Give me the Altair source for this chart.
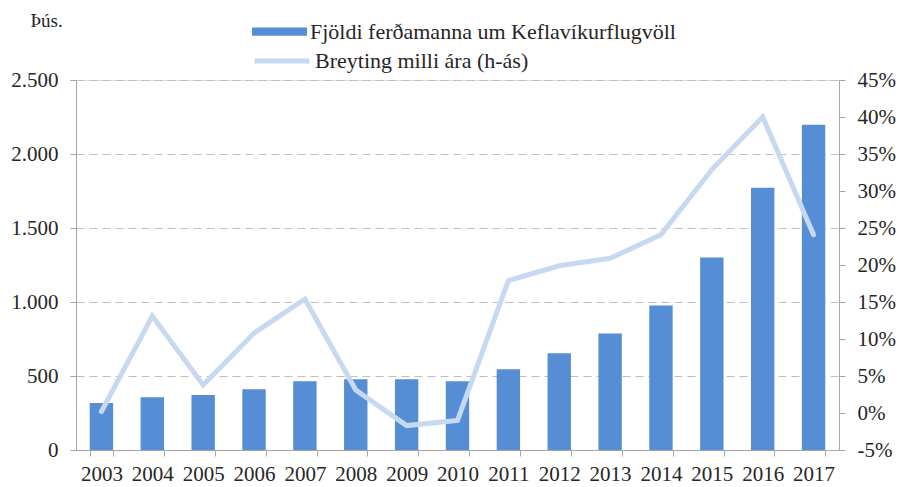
import altair as alt
import pandas as pd

years = ["2003", "2004", "2005", "2006", "2007", "2008", "2009", "2010",
         "2011", "2012", "2013", "2014", "2015", "2016", "2017"]
visitors = [317, 357, 371, 411, 465, 478, 478, 465, 546, 654, 788, 977, 1300, 1772, 2197]
change = [0.002, 0.131, 0.038, 0.108, 0.154, 0.031, -0.017, -0.010,
          0.179, 0.199, 0.209, 0.241, 0.329, 0.400, 0.241]

bar_name = "Fjöldi ferðamanna um Keflavíkurflugvöll"
line_name = "Breyting milli ára (h-ás)"

df = pd.DataFrame({"year": years, "visitors": visitors, "change": change,
                   "s1": bar_name, "s2": line_name})

FONT = "Liberation Serif"
TXT = "#262626"
AX = "#A6A6A6"

x = alt.X("year:O", title=None,
          scale=alt.Scale(paddingInner=0.54, paddingOuter=0.27),
          axis=alt.Axis(labelAngle=0, tickBand="extent", tickSize=6, labelPadding=7,
                        domainColor=AX, tickColor=AX, labelFont=FONT, labelFontSize=21,
                        labelColor=TXT, grid=False))

bars = alt.Chart(df).mark_bar(color="#558ED5").encode(
    x=x,
    y=alt.Y("visitors:Q", title="Þús.",
            scale=alt.Scale(domain=[0, 2500], nice=False),
            axis=alt.Axis(values=[0, 500, 1000, 1500, 2000, 2500],
                          labelExpr="replace(format(datum.value, ','), ',', '.')",
                          tickSize=6, labelPadding=12, domainColor=AX, tickColor=AX,
                          labelFont=FONT, labelFontSize=21, labelColor=TXT,
                          grid=True, gridColor="#BFBFBF", gridDash=[8, 5], gridWidth=1.2,
                          titleAngle=0, titleX=-46, titleY=-69, titleAlign="left",
                          titleBaseline="top",
                          titleFont=FONT, titleFontSize=19, titleFontWeight="normal",
                          titleColor=TXT)),
    fill=alt.Fill("s1:N", scale=alt.Scale(domain=[bar_name], range=["#558ED5"]),
                  legend=alt.Legend(title=None, orient="none", legendX=176, legendY=-76,
                                    symbolType="M-1,-0.15H1V0.15H-1Z", symbolSize=3025,
                                    symbolStrokeWidth=0, labelFont=FONT, labelFontSize=22,
                                    labelColor=TXT, labelOffset=3, padding=0, labelLimit=0)),
)

line = alt.Chart(df).mark_line(strokeWidth=5, strokeCap="round").encode(
    x=x,
    y=alt.Y("change:Q", title=None,
            scale=alt.Scale(domain=[-0.05, 0.45], nice=False),
            axis=alt.Axis(orient="right",
                          values=[-0.05, 0, 0.05, 0.1, 0.15, 0.2, 0.25, 0.3, 0.35, 0.4, 0.45],
                          labelExpr="replace(format(datum.value, '.0%'), '−', '-')",
                          tickSize=6, labelPadding=12, domainColor=AX, tickColor=AX,
                          labelFont=FONT, labelFontSize=21, labelColor=TXT, grid=False)),
    stroke=alt.Stroke("s2:N", scale=alt.Scale(domain=[line_name], range=["#C6D9F1"]),
                      legend=alt.Legend(title=None, orient="none", legendX=176, legendY=-49,
                                        symbolType="stroke", symbolSize=3025,
                                        symbolStrokeWidth=5, labelFont=FONT, labelFontSize=22,
                                        labelColor=TXT, labelOffset=3, padding=0, labelLimit=0)),
)

chart = alt.layer(bars, line).resolve_scale(y="independent").properties(
    width=763, height=370,
    autosize=alt.AutoSizeParams(type="none"),
    padding={"left": 68, "top": 72, "right": 57, "bottom": 36},
).configure_view(stroke=None).configure(
    background="white", font=FONT,
    style={"guide-label": {"font": FONT, "fill": TXT},
           "guide-title": {"font": FONT, "fontWeight": "normal", "fontSize": 19, "fill": TXT}},
).configure_legend(labelFont=FONT, labelFontSize=22, labelLimit=0, labelColor=TXT
).configure_axis(titleFont=FONT, labelFont=FONT, titleFontSize=19, titleFontWeight="normal")

chart.save("out.html", embed_options={"renderer": "svg", "actions": False})
